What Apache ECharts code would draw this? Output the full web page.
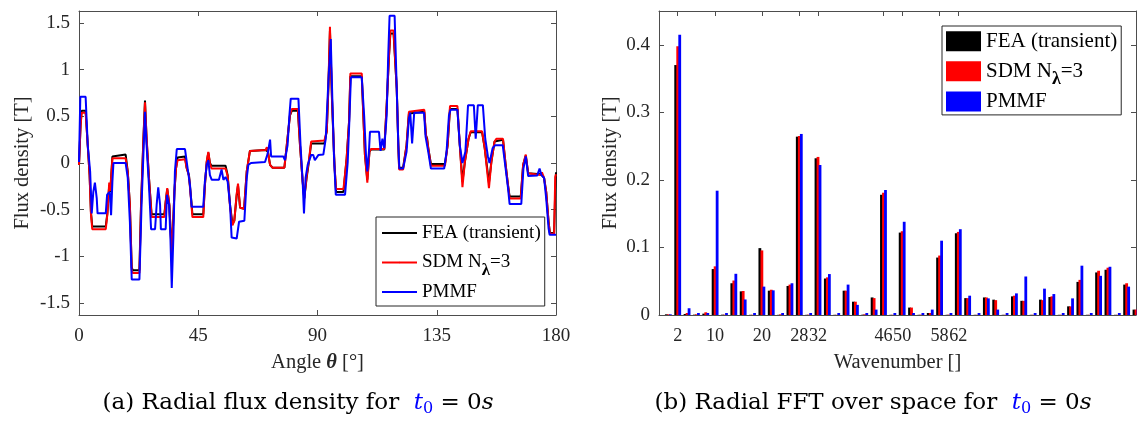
<!DOCTYPE html>
<html><head><meta charset="utf-8">
<script src="https://cdn.jsdelivr.net/npm/echarts@6/dist/echarts.min.js"></script>
<style>html,body{margin:0;padding:0;background:#fff}#c{width:1137px;height:421px}</style>
</head><body><div id="c"></div>
<script>
// ---- (a) radial flux density vs angle ----
const feaTheta = [0,0.6,1.0,2.5,3.3,4.0,4.5,5.0,10.1,10.7,
 11.4,11.8,12.6,13.0,17.6,18.4,19.2,19.9,20.3,22.8,
 23.4,24.3,24.9,25.5,26.4,27.4,32.2,32.7,33.3,34.1,
 35.0,35.6,36.0,36.6,37.2,40.0,40.6,41.5,42.3,42.8,
 46.9,47.5,48.2,48.8,49.4,50.0,55.3,56.1,57.0,57.9,
 58.6,59.5,60.0,60.8,62.3,63.3,64.5,70.4,70.9,71.3,
 72.1,73.0,77.5,78.4,79.6,80.3,82.6,83.4,84.4,85.0,
 85.9,86.8,87.6,92.6,93.5,94.1,94.7,95.5,96.4,97.0,
 99.8,101.0,101.9,102.4,106.7,107.3,107.9,108.8,109.6,110.2,
 115.2,116.1,117.0,117.5,118.7,119.9,120.5,120.8,122.3,123.6,
 124.5,124.9,130.3,130.9,131.4,131.8,132.8,138.1,139.1,140.0,
 142.8,143.7,144.7,145.6,147.0,147.8,152.1,153.1,154.7,155.6,
 156.8,157.5,160.0,161.0,161.9,162.5,166.7,167.6,168.6,169.5,
 170.0,174.3,174.7,175.5,176.3,177.2,177.7,179.3,179.7,180];
const feaB = [-0.02,0.41,0.56,0.56,0.19,-0.13,-0.52,-0.68,-0.68,-0.54,
 -0.24,-0.31,0.07,0.09,0.09,-0.09,-0.45,-1.12,-1.15,-1.15,
 -0.45,0.26,0.67,0.26,-0.16,-0.55,-0.55,-0.42,-0.28,-0.45,
 -0.98,-0.6,-0.31,-0.06,0.06,0.07,-0.05,-0.13,-0.38,-0.55,
 -0.55,-0.24,0.01,0.11,0.0,-0.03,-0.03,-0.13,-0.45,-0.65,
 -0.62,-0.35,-0.24,-0.48,-0.49,-0.09,0.13,0.14,0.14,0.12,
 -0.02,-0.05,-0.05,0.19,0.51,0.56,0.56,0.19,-0.2,-0.38,
 -0.16,0.02,0.21,0.21,0.34,0.80,1.42,0.65,-0.02,-0.31,
 -0.31,0.05,0.44,0.93,0.93,0.51,0.09,-0.18,0.12,0.145,
 0.145,0.62,1.16,1.39,1.39,0.8,0.19,-0.05,-0.05,0.19,
 0.53,0.55,0.55,0.30,0.26,0.16,-0.01,-0.01,0.19,0.58,
 0.58,0.19,-0.2,0.01,0.26,0.33,0.33,0.16,-0.21,0.01,
 0.23,0.25,0.25,-0.02,-0.24,-0.36,-0.36,-0.02,0.08,-0.11,
 -0.12,-0.12,-0.11,-0.16,-0.31,-0.63,-0.75,-0.75,-0.3,-0.1];
const sdmB = [-0.02,0.40,0.54,0.54,0.19,-0.13,-0.54,-0.71,-0.71,-0.55,
 -0.21,-0.30,0.05,0.05,0.05,-0.10,-0.45,-1.15,-1.18,-1.18,
 -0.48,0.24,0.65,0.28,-0.16,-0.58,-0.58,-0.42,-0.27,-0.45,
 -1.0,-0.6,-0.31,-0.06,0.03,0.04,-0.05,-0.14,-0.4,-0.58,
 -0.58,-0.24,0.02,0.12,0.0,-0.06,-0.06,-0.14,-0.47,-0.67,
 -0.62,-0.33,-0.22,-0.48,-0.49,-0.09,0.13,0.14,0.17,0.12,
 -0.02,-0.05,-0.05,0.19,0.51,0.58,0.58,0.19,-0.2,-0.38,
 -0.14,0.04,0.23,0.24,0.34,0.82,1.46,0.67,-0.02,-0.28,
 -0.28,0.05,0.44,0.96,0.96,0.51,0.09,-0.21,0.12,0.15,
 0.15,0.62,1.16,1.42,1.42,0.8,0.19,-0.07,-0.07,0.19,
 0.55,0.57,0.57,0.30,0.24,0.16,-0.03,-0.03,0.19,0.61,
 0.61,0.19,-0.26,0.01,0.26,0.34,0.34,0.16,-0.27,0.01,
 0.23,0.26,0.26,-0.02,-0.24,-0.38,-0.38,-0.02,0.09,-0.11,
 -0.13,-0.13,-0.10,-0.16,-0.31,-0.63,-0.76,-0.76,-0.15,-0.12];
const pmmfTheta = [0,0.5,2.5,3.3,4.2,4.8,5.4,6.0,6.7,7.0,
 10.1,10.6,11.1,11.6,12.1,12.6,13.0,17.6,18.4,19.2,
 19.9,22.8,23.6,24.3,24.9,25.5,26.4,27.2,28.7,29.3,
 29.9,30.6,30.9,32.7,33.2,34.0,34.5,35.0,35.6,36.2,
 36.9,40.0,41.0,41.9,42.5,46.9,47.5,48.2,48.8,49.4,
 50.1,52.8,53.8,54.5,55.3,56.1,57.0,57.6,59.5,60.4,
 62.4,63.3,63.9,64.9,70.2,71.2,72.1,72.5,77.1,77.7,
 78.7,79.4,79.9,82.8,83.6,84.4,84.9,85.5,86.3,87.6,
 88.4,89.0,90.3,92.2,93.1,94.1,95.0,95.6,96.2,96.9,
 100.4,101.4,102.0,102.6,106.7,107.6,108.3,108.8,109.4,109.8,
 113.2,113.8,114.5,115.2,116.1,116.7,117.2,119.1,119.9,120.5,
 120.9,122.3,123.6,124.5,125.0,125.7,126.5,130.2,130.8,131.4,
 131.8,132.8,137.8,138.7,139.6,140.2,142.8,143.7,144.7,145.8,
 146.8,149.0,149.7,150.5,152.4,153.3,154.3,154.9,156.1,157.0,
 159.9,161.0,161.9,162.5,166.9,167.7,168.6,169.5,172.9,173.8,
 174.5,175.5,176.3,177.2,177.6,180];
const pmmfB = [0.01,0.71,0.71,0.19,-0.09,-0.54,-0.31,-0.21,-0.38,-0.54,
 -0.54,-0.34,-0.33,-0.31,-0.56,-0.2,0.0,0.0,-0.16,-0.63,
 -1.25,-1.25,-0.45,0.09,0.55,0.19,-0.24,-0.71,-0.71,-0.45,
 -0.26,-0.45,-0.71,-0.71,-0.34,-0.45,-0.8,-1.34,-0.8,-0.09,
 0.15,0.15,-0.06,-0.24,-0.47,-0.47,-0.2,-0.02,0.03,-0.13,
 -0.18,-0.18,-0.07,-0.18,-0.15,-0.2,-0.45,-0.8,-0.81,-0.63,
 -0.62,-0.16,-0.02,0.0,0.01,0.1,0.25,0.07,0.07,0.03,
 0.19,0.51,0.69,0.69,0.19,-0.2,-0.54,-0.16,-0.02,0.085,
 0.085,0.03,0.085,0.09,0.26,0.87,1.33,0.69,0.09,-0.34,
 -0.34,0.01,0.44,0.92,0.92,0.51,0.085,-0.09,0.12,0.335,
 0.335,0.13,0.26,0.16,0.51,1.16,1.58,1.58,0.8,0.19,
 -0.06,-0.06,0.12,0.48,0.54,0.21,0.54,0.54,0.28,0.26,
 0.12,-0.06,-0.06,0.12,0.51,0.57,0.57,0.19,0.0,0.12,
 0.62,0.62,0.26,0.62,0.62,0.26,0.07,0.0,0.16,0.19,
 0.19,-0.06,-0.27,-0.44,-0.44,-0.06,0.07,-0.14,-0.135,-0.06,
 -0.13,-0.16,-0.38,-0.7,-0.77,-0.77];
const angleTicks = [0,45,90,135,180];
const fluxTicks = [-1.5,-1,-0.5,0,0.5,1,1.5];

// ---- (b) FFT over space ----
const wavenumbers = [0,2,4,6,8,10,12,14,16,18,20,22,24,26,28,30,32,34,36,38,40,42,44,46,48,50,
 52,54,56,58,60,62,64,66,68,70,72,74,76,78,80,82,84,86,88,90,92,94,96,98,100];
const feaFFT = [0.001,0.370,0.0015,0.0005,0.002,0.068,0.0005,0.047,0.035,0.0003,0.099,0.036,0.0003,0.043,0.264,0.0003,0.232,0.054,0.0003,0.036,0.0197,0.0005,0.026,0.178,0.0003,0.122,
 0.011,0.0003,0.003,0.085,0.0003,0.121,0.025,0.0003,0.026,0.0227,0.0003,0.0276,0.021,0.0003,0.0227,0.0266,0.0003,0.0128,0.049,0.0003,0.063,0.067,0.0003,0.045,0.008];
const sdmFFT = [0.001,0.398,0.003,0.001,0.004,0.072,0.0005,0.051,0.0355,0.0003,0.0956,0.0374,0.001,0.045,0.265,0.0005,0.234,0.0557,0.0003,0.036,0.0197,0.001,0.025,0.181,0.0003,0.124,
 0.011,0.0005,0.003,0.088,0.0005,0.123,0.025,0.0003,0.026,0.022,0.0003,0.0286,0.021,0.0003,0.022,0.0276,0.0003,0.0128,0.052,0.0003,0.0655,0.070,0.0003,0.047,0.008];
const pmmfFFT = [0.001,0.415,0.010,0.003,0.003,0.184,0.003,0.061,0.023,0.003,0.042,0.0365,0.003,0.047,0.268,0.003,0.222,0.0606,0.003,0.045,0.015,0.003,0.008,0.185,0.003,0.138,
 0.003,0.003,0.008,0.110,0.003,0.127,0.0286,0.003,0.0246,0.008,0.003,0.032,0.057,0.003,0.039,0.031,0.003,0.0246,0.073,0.003,0.058,0.0714,0.003,0.042,0.008];
const waveTicks = [2,10,20,28,32,46,50,58,62];
const fftTicks = [0,0.1,0.2,0.3,0.4];

const names = ['FEA (transient)','SDM N\u03bb=3','PMMF'];
const colors = ['#000000','#ff0000','#0000ff'];

const SERIF = 'Liberation Serif';
const AX = '#4d4d4d';
const TXT = '#262626';

function pairs(xs, ys){ return xs.map((x,i)=>[x, ys[i]]); }

function xAx(grid, min, max, ticks, pos, name, labelSize){
  const bottom = pos === 'bottom';
  return {
    type:'value', gridIndex:grid, position:pos, min, max,
    axisLine:{show:true, onZero:false, lineStyle:{color:AX, width:1}},
    axisTick:{show:true, inside:true, length:5, customValues:ticks, lineStyle:{color:AX}},
    axisLabel:{show:bottom, customValues:ticks, margin:12, fontFamily:SERIF, fontSize:labelSize || 19, color:TXT,
      hideOverlap:false, showMinLabel:true, showMaxLabel:true},
    splitLine:{show:false},
    name: bottom ? name : '', nameLocation:'middle', nameGap:37,
    nameTextStyle:{fontFamily:SERIF, fontSize:20.5, color:TXT,
      rich:{b:{fontFamily:SERIF, fontSize:20.5, fontWeight:'bold', fontStyle:'italic', color:TXT}}}
  };
}
function yAx(grid, min, max, ticks, pos, name, gap){
  const left = pos === 'left';
  return {
    type:'value', gridIndex:grid, position:pos, min, max,
    axisLine:{show:true, onZero:false, lineStyle:{color:AX, width:1}},
    axisTick:{show:true, inside:true, length:5, customValues:ticks, lineStyle:{color:AX}},
    axisLabel:{show:left, customValues:ticks, margin:9, fontFamily:SERIF, fontSize:19, color:TXT, hideOverlap:false},
    splitLine:{show:false},
    name: left ? name : '', nameLocation:'middle', nameGap:gap, nameRotate:90,
    nameTextStyle:{fontFamily:SERIF, fontSize:20.5, color:TXT}
  };
}

const legendRich = {
  sub:{fontFamily:SERIF, fontWeight:'bold', fontSize:17, lineHeight:20, padding:[16,0,0,0], color:'#000'}
};
function legendFmt(n){ n = n.trim(); return n === names[1] ? 'SDM N{sub|\u03bb}=3' : n; }

const option = {
  animation:false,
  backgroundColor:'#fff',
  grid:[
    {left:79, top:11, width:477, height:304},
    {left:659, top:11, width:477, height:304}
  ],
  xAxis:[
    xAx(0, 0, 180, angleTicks, 'bottom', 'Angle {b|\u03b8} [\u00b0]'),
    xAx(0, 0, 180, angleTicks, 'top', ''),
    xAx(1, -2, 100, waveTicks, 'bottom', 'Wavenumber []', 18.2),
    xAx(1, -2, 100, waveTicks, 'top', '')
  ],
  yAxis:[
    yAx(0, -1.63, 1.63, fluxTicks, 'left', 'Flux density [T]', 46),
    yAx(0, -1.63, 1.63, fluxTicks, 'right', '', 0),
    yAx(1, 0, 0.45, fftTicks, 'left', 'Flux density [T]', 38),
    yAx(1, 0, 0.45, fftTicks, 'right', '', 0)
  ],
  legend:[
    {
      data:names, orient:'vertical', left:376, top:217, itemWidth:35, itemHeight:2, itemGap:3,
      padding:[6,4,4,5], borderColor:'#262626', borderWidth:1, backgroundColor:'#fff', borderRadius:0,
      selectedMode:false, formatter:legendFmt,
      textStyle:{fontFamily:SERIF, fontSize:19, color:'#000', lineHeight:20, rich:legendRich}
    },
    {
      data:names.map(n=>({name:n+' ', icon:'rect'})), orient:'vertical', left:942, top:26,
      itemWidth:35, itemHeight:20, itemGap:2.6,
      padding:[4.7,4,3,4], borderColor:'#262626', borderWidth:1, backgroundColor:'#fff', borderRadius:0,
      selectedMode:false, formatter:legendFmt,
      textStyle:{fontFamily:SERIF, fontSize:21, color:'#000', lineHeight:20,
        rich:{sub:Object.assign({}, legendRich.sub, {fontSize:18})}}
    }
  ],
  series:[
    {name:names[0], type:'line', xAxisIndex:0, yAxisIndex:0, symbol:'none', data:pairs(feaTheta, feaB),
      color:colors[0], lineStyle:{color:colors[0], width:2}},
    {name:names[1], type:'line', xAxisIndex:0, yAxisIndex:0, symbol:'none', data:pairs(feaTheta, sdmB),
      color:colors[1], lineStyle:{color:colors[1], width:2}},
    {name:names[2], type:'line', xAxisIndex:0, yAxisIndex:0, symbol:'none', data:pairs(pmmfTheta, pmmfB),
      color:colors[2], lineStyle:{color:colors[2], width:2}},
    {name:names[0]+' ', type:'bar', xAxisIndex:2, yAxisIndex:2, barWidth:2.8, barGap:'-28%',
      data:pairs(wavenumbers, feaFFT), itemStyle:{color:colors[0]}},
    {name:names[1]+' ', type:'bar', xAxisIndex:2, yAxisIndex:2, barWidth:2.8, barGap:'-28%',
      data:pairs(wavenumbers, sdmFFT), itemStyle:{color:colors[1]}},
    {name:names[2]+' ', type:'bar', xAxisIndex:2, yAxisIndex:2, barWidth:2.8, barGap:'-28%',
      data:pairs(wavenumbers, pmmfFFT), itemStyle:{color:colors[2]}}
  ],
  graphic:[
    {type:'text', x:298, y:403, style:{
      text:'(a) Radial flux density for  {t|t}{sub|0} = 0{s|s}',
      fontFamily:'DejaVu Serif', fontSize:23, fill:'#000', align:'center', verticalAlign:'middle', lineHeight:26,
      rich:{
        t:{fontFamily:'DejaVu Serif', fontSize:23, fontStyle:'italic', fill:'#0000ff', lineHeight:26},
        sub:{fontFamily:'DejaVu Serif', fontSize:16, fill:'#0000ff', lineHeight:26, padding:[12,0,0,0]},
        s:{fontFamily:'DejaVu Serif', fontSize:23, fontStyle:'italic', fill:'#000', lineHeight:26}
      }}},
    {type:'text', x:873, y:403, style:{
      text:'(b) Radial FFT over space for  {t|t}{sub|0} = 0{s|s}',
      fontFamily:'DejaVu Serif', fontSize:23, fill:'#000', align:'center', verticalAlign:'middle', lineHeight:26,
      rich:{
        t:{fontFamily:'DejaVu Serif', fontSize:23, fontStyle:'italic', fill:'#0000ff', lineHeight:26},
        sub:{fontFamily:'DejaVu Serif', fontSize:16, fill:'#0000ff', lineHeight:26, padding:[12,0,0,0]},
        s:{fontFamily:'DejaVu Serif', fontSize:23, fontStyle:'italic', fill:'#000', lineHeight:26}
      }}}
  ]
};
const chart = echarts.init(document.getElementById('c'), null, {renderer:'canvas'});
chart.setOption(option);
</script></body></html>
